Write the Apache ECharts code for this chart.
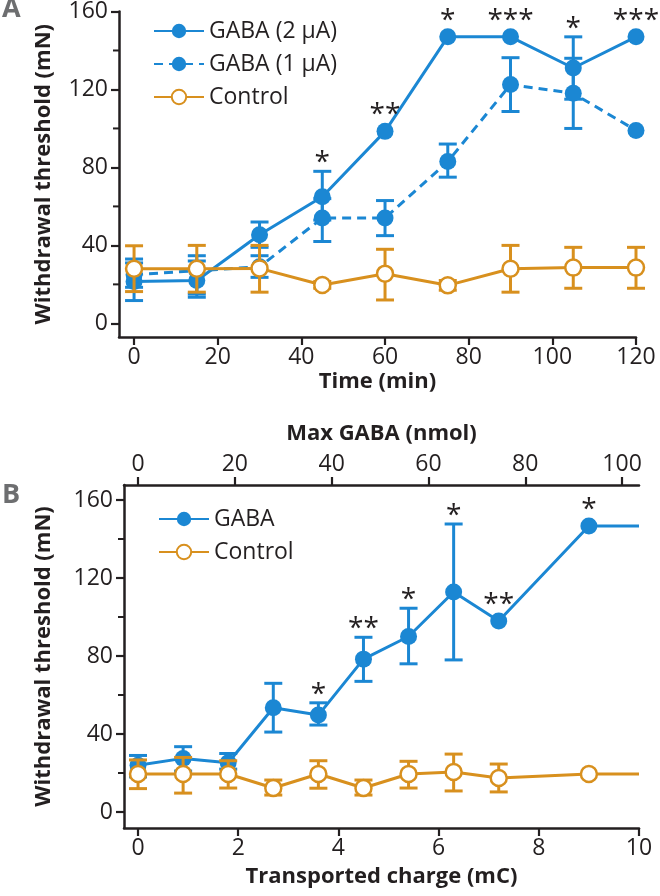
<!DOCTYPE html>
<html><head><meta charset="utf-8">
<script src="https://cdn.jsdelivr.net/npm/echarts@6/dist/echarts.min.js"></script>
<style>html,body{margin:0;padding:0;background:#fff}#c{width:660px;height:896px}</style>
</head><body><div id="c"></div>
<script>
// ---------- Panel A data ----------
const timeA = [0, 15, 30, 45, 60, 75, 90, 105, 120];
const gaba2 = [21.5, 22, 45.5, 65, 98.5, 147, 147, 131, 147];
const gaba2Low = [11.7, 13.4, 39, 53, null, null, null, 115, null];
const gaba2High = [33, 34.7, 52, 78, null, null, null, 147, null];
const gaba1 = [25, 27, 29, 54, 54, 83, 122.5, 118, 99];
const gaba1Low = [18.5, 15, 23.6, 42, 45, 75, 108.7, 100, null];
const gaba1High = [31, 32, 34.7, 64, 63, 92, 136.3, 136, null];
const controlA = [28, 28, 28.2, 19.7, 25.5, 19.5, 28, 28.6, 28.6];
const controlALow = [16.3, 16, 16, 18, 12, 17, 16, 18, 18];
const controlAHigh = [39.8, 40, 40, 21.5, 38, 22, 40, 39, 39];
const starsA = ['', '', '', '*', '**', '*', '***', '*', '***'];
const xTicksA = [0, 20, 40, 60, 80, 100, 120];
const yLabelsA = [0, 40, 80, 120, 160];
const yMinorA = [20, 60, 100, 140];

// ---------- Panel B data ----------
const chargeB = [0, 0.9, 1.8, 2.7, 3.6, 4.5, 5.4, 6.3, 7.2, 9.0, 10];
const gabaB = [24, 27.5, 25.3, 53.5, 49.7, 78.4, 90, 112.8, 98, 146.7, 146.7];
const gabaBLow = [18, 21, 22, 41, 44.6, 67, 76, 78, null, null, null];
const gabaBHigh = [29, 33.5, 30, 66, 56, 89.6, 104.5, 147.7, null, null, null];
const controlB = [19.5, 19.5, 19.5, 12.3, 19.5, 12.3, 19.5, 20.5, 17.4, 19.5, 19.5];
const controlBLow = [12, 9.7, 12.3, 8.7, 12.2, 8.7, 12.3, 10.8, 10.3, null, null];
const controlBHigh = [26.7, 28, 26.3, 16.4, 26.3, 16.4, 26, 29.7, 24.6, null, null];
const markerB = [true, true, true, true, true, true, true, true, true, true, false];
const starsB = ['', '', '', '', '*', '**', '*', '*', '**', '*', ''];
const xTicksB = [0, 2, 4, 6, 8, 10];
const xTicksTop = [0, 20, 40, 60, 80, 100];
const yLabelsB = [0, 40, 80, 120, 160];
const yMinorB = [20, 60, 100, 140];

const BLUE = '#1b87d3', ORANGE = '#d8901e', INK = '#231f20';
const FONT = '"Open Sans", sans-serif';
const X_MIN_A = -3.6, X_MIN_B = -0.28;

function pts(xs, ys, mk) {
  return xs.map((x, i) => (mk && !mk[i]) ? { value: [x, ys[i]], symbol: 'none' } : [x, ys[i]]);
}
function errSeries(xi, yi, xs, lo, hi, color, z) {
  const data = xs.map((x, i) => [x, lo[i], hi[i]]).filter(d => d[1] != null);
  return {
    type: 'custom', xAxisIndex: xi, yAxisIndex: yi, z: z, silent: true, data: data,
    encode: { x: 0, y: [1, 2] },
    renderItem(params, api) {
      const x = api.value(0), p1 = api.coord([x, api.value(1)]), p2 = api.coord([x, api.value(2)]);
      const w = 9, st = { stroke: color, lineWidth: 3 };
      return { type: 'group', children: [
        { type: 'line', shape: { x1: p1[0], y1: p1[1], x2: p2[0], y2: p2[1] }, style: st },
        { type: 'line', shape: { x1: p1[0] - w, y1: p1[1], x2: p1[0] + w, y2: p1[1] }, style: st },
        { type: 'line', shape: { x1: p2[0] - w, y1: p2[1], x2: p2[0] + w, y2: p2[1] }, style: st }
      ] };
    }
  };
}
function minorTickSeries(xi, yi, xMin, vals) {
  return {
    type: 'custom', xAxisIndex: xi, yAxisIndex: yi, z: 8, silent: true, clip: false,
    data: vals.map(v => [xMin, v]),
    renderItem(params, api) {
      const p = api.coord([api.value(0), api.value(1)]);
      return { type: 'line', shape: { x1: p[0] - 6, y1: p[1], x2: p[0], y2: p[1] }, style: { stroke: INK, lineWidth: 2 } };
    }
  };
}
function starSeries(xi, yi, xs, vals, hi, stars) {
  const items = [];
  xs.forEach((x, i) => {
    if (stars[i]) items.push({ x: x, v: hi[i] != null ? Math.max(hi[i], vals[i]) : vals[i], pt: hi[i] == null, t: stars[i] });
  });
  return {
    type: 'custom', xAxisIndex: xi, yAxisIndex: yi, z: 10, silent: true,
    data: items.map(d => [d.x, d.v]),
    renderItem(params, api) {
      const d = items[params.dataIndex], p = api.coord([d.x, d.v]);
      return { type: 'text', x: p[0], y: p[1] - (d.pt ? 8 : 0) + 6,
        style: { text: d.t, fontSize: 28, fontFamily: FONT, fill: INK, align: 'center', verticalAlign: 'bottom' } };
    }
  };
}
function lineSeries(name, xi, yi, data, dashed, open) {
  return {
    type: 'line', name: name, xAxisIndex: xi, yAxisIndex: yi, data: data,
    symbol: 'circle', symbolSize: open ? 16 : 17, z: open ? 5 : 3,
    lineStyle: { color: open ? ORANGE : BLUE, width: 3, type: dashed ? [9, 6] : 'solid' },
    itemStyle: open ? { color: '#fff', borderColor: ORANGE, borderWidth: 2.5 } : { color: BLUE },
    emphasis: { disabled: true }
  };
}
const labelStyle = { fontSize: 23, fontFamily: FONT, color: INK };
const nameStyle = { fontSize: 22, fontFamily: FONT, fontWeight: 'bold', color: INK };
const axLine = { onZero: false, lineStyle: { color: INK, width: 2.5 } };
function xAx(grid, min, max, ticks, name, gap, pos) {
  return { type: 'value', gridIndex: grid, position: pos || 'bottom', min: min, max: max,
    axisLine: axLine, splitLine: { show: false },
    axisTick: { customValues: ticks, length: 8, lineStyle: { color: INK, width: 2.2 } },
    axisLabel: Object.assign({ customValues: ticks, margin: 9 }, labelStyle),
    name: name, nameLocation: 'middle', nameGap: gap, nameTextStyle: nameStyle };
}
function yAx(grid, min, max, labels, name, gap) {
  return { type: 'value', gridIndex: grid, position: 'left', min: min, max: max,
    axisLine: axLine, splitLine: { show: false },
    axisTick: { customValues: labels, length: 8, lineStyle: { color: INK, width: 2.2 } },
    axisLabel: Object.assign({ customValues: labels, margin: 11 }, labelStyle),
    name: name, nameLocation: 'middle', nameGap: gap, nameTextStyle: nameStyle };
}

const chart = echarts.init(document.getElementById('c'), null, { renderer: 'canvas', width: 660, height: 896 });
chart.setOption({
  animation: false,
  backgroundColor: '#fff',
  grid: [
    { left: 119, right: 24, top: 9.5, bottom: 559 },
    { left: 124, right: 21, top: 485, bottom: 68 }
  ],
  xAxis: [
    xAx(0, X_MIN_A, 120, xTicksA, 'Time (min)', 34),
    xAx(1, X_MIN_B, 10, xTicksB, 'Transported charge (mC)', 38),
    xAx(1, -2.9, 103.5, xTicksTop, 'Max GABA (nmol)', 40, 'top')
  ],
  yAxis: [
    yAx(0, -7, 160, yLabelsA, 'Withdrawal threshold (mN)', 64),
    yAx(1, -8.2, 167.7, yLabelsB, 'Withdrawal threshold (mN)', 69)
  ],
  legend: [
    { left: 148, top: 14, orient: 'vertical', itemWidth: 50, itemHeight: 18, itemGap: 9, selectedMode: false,
      data: ['GABA (2 µA)', 'GABA (1 µA)', 'Control'],
      textStyle: { fontSize: 23, fontFamily: FONT, color: INK, lineHeight: 24 } },
    { left: 153, top: 502, orient: 'vertical', itemWidth: 50, itemHeight: 18, itemGap: 9, selectedMode: false,
      data: ['GABA', 'Control'],
      textStyle: { fontSize: 23, fontFamily: FONT, color: INK, lineHeight: 24 } }
  ],
  graphic: [
    { type: 'text', left: 2, top: -4, style: { text: 'A', fontSize: 27, fontWeight: 'bold', fontFamily: FONT, fill: '#6d6e70' } },
    { type: 'text', left: 2, top: 482, style: { text: 'B', fontSize: 27, fontWeight: 'bold', fontFamily: FONT, fill: '#6d6e70' } }
  ],
  series: [
    minorTickSeries(0, 0, X_MIN_A, yMinorA),
    errSeries(0, 0, timeA, gaba2Low, gaba2High, BLUE, 2),
    errSeries(0, 0, timeA, gaba1Low, gaba1High, BLUE, 2),
    lineSeries('GABA (2 µA)', 0, 0, pts(timeA, gaba2), false, false),
    lineSeries('GABA (1 µA)', 0, 0, pts(timeA, gaba1), true, false),
    errSeries(0, 0, timeA, controlALow, controlAHigh, ORANGE, 4),
    lineSeries('Control', 0, 0, pts(timeA, controlA), false, true),
    starSeries(0, 0, timeA, gaba2, gaba2High, starsA),

    minorTickSeries(1, 1, X_MIN_B, yMinorB),
    errSeries(1, 1, chargeB, gabaBLow, gabaBHigh, BLUE, 2),
    lineSeries('GABA', 1, 1, pts(chargeB, gabaB, markerB), false, false),
    errSeries(1, 1, chargeB, controlBLow, controlBHigh, ORANGE, 4),
    lineSeries('Control', 1, 1, pts(chargeB, controlB, markerB), false, true),
    starSeries(1, 1, chargeB, gabaB, gabaBHigh, starsB)
  ]
});
</script>
</body></html>
